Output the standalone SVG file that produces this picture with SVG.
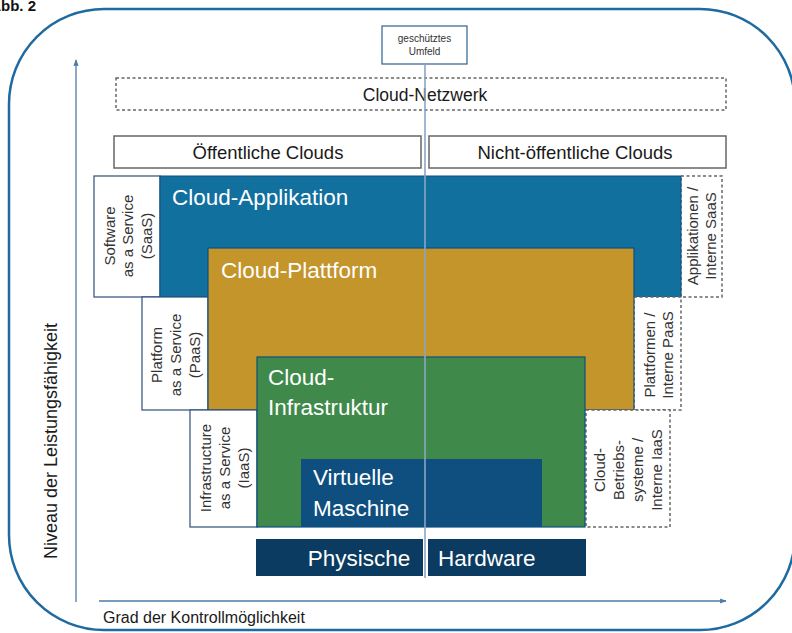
<svg xmlns="http://www.w3.org/2000/svg" width="792" height="633" viewBox="0 0 792 633">
<defs>
<style>
text{font-family:"Liberation Sans",Arial,sans-serif;}
.k{fill:#1a1a1a;}
.svc{fill:#ffffff;stroke:#2f4f78;stroke-width:1.2;}
.dsh{fill:#ffffff;stroke:#666;stroke-width:1.5;stroke-dasharray:3,2.5;}
.hdr{fill:#ffffff;stroke:#666;stroke-width:1.5;}
.big{font-size:22.5px;fill:#ffffff;}
.sm{font-size:15px;fill:#333;text-anchor:middle;}
.ax{stroke:#4d7aa6;stroke-width:1.3;fill:none;}
</style>
<marker id="ah" viewBox="0 0 10 10" refX="9" refY="5" markerWidth="5" markerHeight="5" orient="auto-start-reverse">
<path d="M0,1 L10,5 L0,9 z" fill="#4d7aa6"/>
</marker>
</defs>
<rect x="0" y="0" width="792" height="633" fill="#ffffff"/>
<g id="frame">
<rect x="9" y="9" width="786" height="621" rx="95" ry="95" fill="none" stroke="#1f6aa0" stroke-width="2.5"/>
<text x="36" y="11" font-size="15" font-weight="bold" text-anchor="end" fill="#111">Abb. 2</text>
</g>
<g id="umfeld">
<rect x="382" y="26" width="85" height="38" fill="#fff" stroke="#2f5f90" stroke-width="1.2"/>
<text x="424.5" y="42" font-size="10" text-anchor="middle" fill="#333">geschütztes</text>
<text x="424.5" y="55" font-size="10" text-anchor="middle" fill="#333">Umfeld</text>
</g>
<g id="netzwerk">
<rect class="dsh" x="116" y="78" width="610" height="32"/>
<text x="425" y="101" font-size="17.5" text-anchor="middle" class="k">Cloud-Netzwerk</text>
</g>
<g id="oeffentlich">
<rect class="hdr" x="114" y="136" width="307" height="32"/>
<text x="268" y="159" font-size="18.5" text-anchor="middle" class="k">Öffentliche Clouds</text>
</g>
<g id="nichtoeffentlich">
<rect class="hdr" x="429" y="136" width="297" height="32"/>
<text x="575" y="159" font-size="18.5" text-anchor="middle" class="k">Nicht-öffentliche Clouds</text>
</g>
<g id="saas">
<rect class="svc" x="94" y="176" width="66" height="121"/>
<g transform="translate(127,236) rotate(-90)">
<text class="sm" x="0" y="-12">Software</text>
<text class="sm" x="0" y="6">as a Service</text>
<text class="sm" x="0" y="25">(SaaS)</text>
</g>
</g>
<g id="app-intern">
<rect class="dsh" x="681" y="176" width="41" height="121"/>
<g transform="translate(702,236) rotate(-90)">
<text class="sm" x="0" y="-4">Applikationen /</text>
<text class="sm" x="0" y="14">Interne SaaS</text>
</g>
</g>
<g id="cloud-applikation">
<rect x="160" y="176" width="521" height="121" fill="#12709f" stroke="#0e4f80" stroke-width="1"/>
<text class="big" x="172" y="205">Cloud-Applikation</text>
</g>
<g id="paas">
<rect class="svc" x="142" y="297" width="66" height="113"/>
<g transform="translate(175,355) rotate(-90)">
<text class="sm" x="0" y="-13">Platform</text>
<text class="sm" x="0" y="6">as a Service</text>
<text class="sm" x="0" y="25">(PaaS)</text>
</g>
</g>
<g id="plattform-intern">
<rect class="dsh" x="634" y="297" width="47" height="113"/>
<g transform="translate(658,355) rotate(-90)">
<text class="sm" x="0" y="-3">Plattformen /</text>
<text class="sm" x="0" y="15">Interne PaaS</text>
</g>
</g>
<g id="cloud-plattform">
<rect x="208" y="248" width="426" height="162" fill="#c3952a" stroke="#0e4f80" stroke-width="1.2"/>
<text class="big" x="221" y="278">Cloud-Plattform</text>
</g>
<g id="iaas">
<rect class="svc" x="190" y="410" width="67" height="117"/>
<g transform="translate(224,468) rotate(-90)">
<text class="sm" x="0" y="-13">Infrastructure</text>
<text class="sm" x="0" y="6">as a Service</text>
<text class="sm" x="0" y="25">(IaaS)</text>
</g>
</g>
<g id="betrieb-intern">
<rect class="dsh" x="586" y="410" width="84" height="117"/>
<g transform="translate(628,470) rotate(-90)">
<text class="sm" x="0" y="-23">Cloud-</text>
<text class="sm" x="0" y="-4">Betriebs-</text>
<text class="sm" x="0" y="15">systeme /</text>
<text class="sm" x="0" y="34">Interne IaaS</text>
</g>
</g>
<g id="cloud-infrastruktur">
<rect x="257" y="357" width="328" height="170" fill="#3f8a4b" stroke="#0e4f80" stroke-width="1.2"/>
<text class="big" x="268" y="385">Cloud-</text>
<text class="big" x="268" y="415">Infrastruktur</text>
</g>
<g id="virtuelle-maschine">
<rect x="301" y="459" width="241" height="68" fill="#0e4f80"/>
<text class="big" x="313" y="485">Virtuelle</text>
<text class="big" x="313" y="516">Maschine</text>
</g>
<g id="hardware">
<rect x="256" y="539" width="167" height="37" fill="#0b3b60"/>
<rect x="428" y="539" width="158" height="37" fill="#0b3b60"/>
<text class="big" x="359" y="566" text-anchor="middle">Physische</text>
<text class="big" x="438" y="566">Hardware</text>
</g>
<g id="connectors">
<line x1="425" y1="64" x2="425" y2="578" stroke="#8aa6c4" stroke-width="1.6"/>
<line class="ax" x1="76" y1="602" x2="76" y2="60" marker-end="url(#ah)"/>
<line class="ax" x1="99" y1="601" x2="726" y2="601" marker-end="url(#ah)"/>
</g>
<g id="axis-labels">
<text transform="translate(57,441) rotate(-90)" font-size="18" text-anchor="middle" class="k">Niveau der Leistungsfähigkeit</text>
<text x="103" y="623" font-size="16" class="k">Grad der Kontrollmöglichkeit</text>
</g>
</svg>
